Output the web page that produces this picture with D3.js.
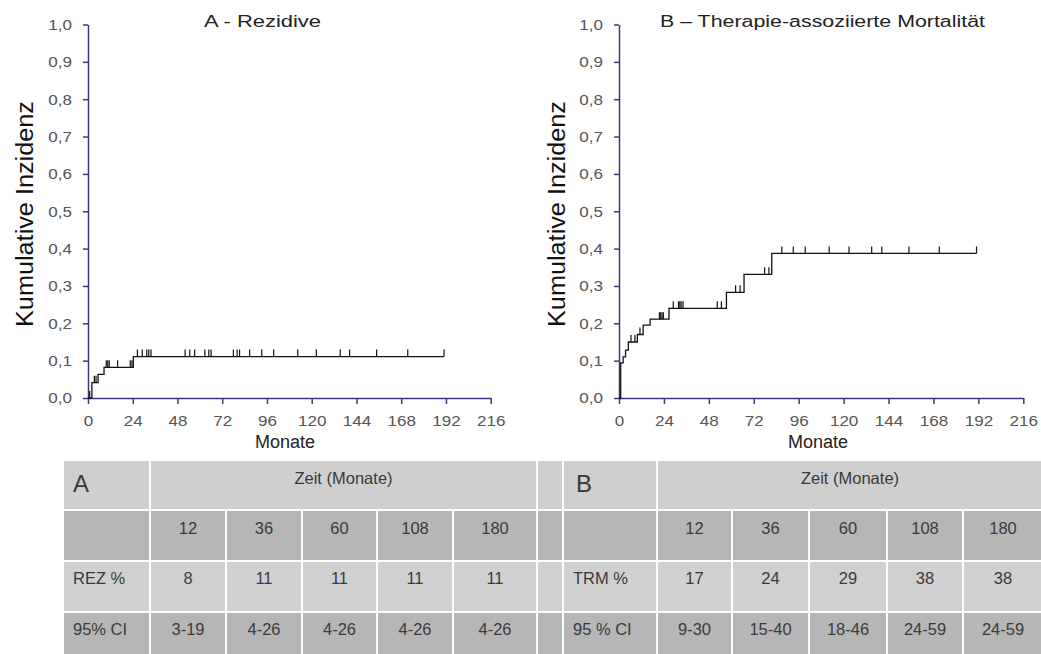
<!DOCTYPE html>
<html lang="de">
<head>
    <meta charset="UTF-8">
    <title>Kumulative Inzidenz - Rezidive und TRM</title>
    <script src="https://d3js.org/d3.v7.min.js"></script>
    <style>
        body {
            margin: 0;
            background: #fff;
        }
        svg text {
            font-family: "Liberation Sans", Arial, sans-serif;
        }
        .axis path,
        .axis line {
            stroke: #3a3a7c;
            stroke-width: 1.5px;
        }
        .axis text {
            fill: #555;
            font-size: 15.5px;
        }
        .curve {
            fill: none;
            stroke: #111;
            stroke-width: 1.3px;
        }
        .censor {
            stroke: #111;
            stroke-width: 1.2px;
        }
        .title {
            font-size: 16px;
            fill: #222;
            text-anchor: middle;
        }
        .ylabel {
            font-size: 23px;
            fill: #111;
            text-anchor: middle;
        }
        .xlabel {
            font-size: 18px;
            fill: #222;
            text-anchor: middle;
        }
        .cell-text {
            font-size: 16.5px;
            fill: #3a3a3a;
        }
    </style>
</head>
<body>
    <div id="chart"></div>
    <script>
        // ---- data ----
        const xTicks = [0, 24, 48, 72, 96, 120, 144, 168, 192, 216];
        const yTicks = [0, 0.1, 0.2, 0.3, 0.4, 0.5, 0.6, 0.7, 0.8, 0.9, 1.0];

        // A - Rezidive
        const stepTimesA = [2.1, 5.4, 8.6, 24.3];
        const stepValuesA = [0.041, 0.063, 0.082, 0.111];
        const censorA = [0.9, 3.4, 4.3, 9.8, 10.6, 11.4, 15.9, 22.7, 23.6,
                         26.5, 29.1, 31.5, 32.6, 33.8, 52.1, 54.6, 57.2, 62.7, 64.8, 66.0,
                         78.0, 80.0, 81.3, 86.7, 93.2, 99.6, 112.5, 122.5, 135.3, 140.3,
                         154.8, 171.5, 191];
        const endA = 191;

        // B - Therapie-assoziierte Mortalitaet
        const stepTimesB = [0.9, 2.2, 3.5, 5.0, 9.8, 12.9, 16.6, 26.7, 57.4, 66.8, 81.6];
        const stepValuesB = [0.094, 0.110, 0.128, 0.150, 0.170, 0.195, 0.211, 0.240, 0.283, 0.331, 0.387];
        const censorB = [6.4, 8.5, 11.2, 21.6, 22.3, 23.0, 23.7, 29.0, 31.8, 32.5, 33.2, 34.2,
                         52.5, 54.7, 62.3, 64.7, 77.8, 80.1, 87.0, 93.1, 99.5, 112.3,
                         122.9, 135.0, 140.4, 154.9, 171.1, 191];
        const endB = 191;

        // table values
        const tableMonths = ["12", "36", "60", "108", "180"];
        const rezPct = ["8", "11", "11", "11", "11"];
        const rezCI = ["3-19", "4-26", "4-26", "4-26", "4-26"];
        const trmPct = ["17", "24", "29", "38", "38"];
        const trmCI = ["9-30", "15-40", "18-46", "24-59", "24-59"];

        const W = 1041, H = 654;
        const svg = d3.select("#chart")
                      .append("svg")
                      .attr("width", W)
                      .attr("height", H);

        const fmtComma = d => d3.format(".1f")(d).replace(".", ",");

        // the tick labels in the original are a little wider than the font
        function widen(sel, k) {
            sel.selectAll("text").each(function() {
                const w = this.getComputedTextLength();
                d3.select(this)
                  .attr("textLength", w * k)
                  .attr("lengthAdjust", "spacingAndGlyphs");
            });
        }

        function drawPanel(p) {
            const x = d3.scaleLinear().domain([0, 216]).range([p.left, p.right]);
            const y = d3.scaleLinear().domain([0, 1]).range([398, 24.5]);
            const g = svg.append("g");

            // Y axis
            g.append("g")
             .attr("class", "axis")
             .attr("transform", `translate(${p.left},0)`)
             .call(d3.axisLeft(y).tickValues(yTicks).tickFormat(fmtComma)
                     .tickSize(5).tickSizeOuter(0).tickPadding(11))
             .call(widen, 1.1);

            // X axis
            g.append("g")
             .attr("class", "axis")
             .attr("transform", `translate(0,${y(0)})`)
             .call(d3.axisBottom(x).tickValues(xTicks).tickFormat(d3.format("d"))
                     .tickSize(6).tickSizeOuter(0).tickPadding(11))
             .call(widen, 1.1);

            // step curve
            const pts = [{ t: 0, v: 0 }];
            p.times.forEach((t, i) => pts.push({ t: t, v: p.values[i] }));
            pts.push({ t: p.end, v: p.values[p.values.length - 1] });

            const line = d3.line()
                           .x(d => x(d.t))
                           .y(d => y(d.v))
                           .curve(d3.curveStepAfter);

            g.append("path")
             .datum(pts)
             .attr("class", "curve")
             .attr("d", line);

            // censoring marks
            const levelAt = t => {
                const i = d3.bisectRight(p.times, t);
                return i === 0 ? 0 : p.values[i - 1];
            };
            g.selectAll(".censor")
             .data(p.censor)
             .join("line")
             .attr("class", "censor")
             .attr("x1", d => x(d))
             .attr("x2", d => x(d))
             .attr("y1", d => y(levelAt(d)))
             .attr("y2", d => y(levelAt(d)) - 7);

            // title
            g.append("text")
             .attr("class", "title")
             .attr("x", p.titleX)
             .attr("y", 27.3)
             .attr("textLength", p.titleLen)
             .attr("lengthAdjust", "spacingAndGlyphs")
             .text(p.title);

            // y label
            g.append("text")
             .attr("class", "ylabel")
             .attr("transform", `translate(${p.ylabX},214) rotate(-90)`)
             .attr("textLength", 226)
             .attr("lengthAdjust", "spacingAndGlyphs")
             .text("Kumulative Inzidenz");

            // x label
            g.append("text")
             .attr("class", "xlabel")
             .attr("x", p.xlabX)
             .attr("y", 448.3)
             .text("Monate");
        }

        drawPanel({
            left: 88, right: 490.7,
            times: stepTimesA, values: stepValuesA, censor: censorA, end: endA,
            title: "A - Rezidive", titleX: 262.5, titleLen: 117,
            ylabX: 33, xlabX: 285
        });

        drawPanel({
            left: 619, right: 1023.3,
            times: stepTimesB, values: stepValuesB, censor: censorB, end: endB,
            title: "B \u2013 Therapie-assoziierte Mortalit\u00e4t", titleX: 822.5, titleLen: 325,
            ylabX: 565, xlabX: 818
        });

        // ---- table ----
        const colEdges = [63, 150, 226, 302, 377, 453, 537, 563, 657, 732, 809, 887, 963, 1043];
        const rowEdges = [460, 510, 561, 612, 664];
        const rowFill = ["#cfcfcf", "#b6b6b6", "#d0d0d0", "#b6b6b6"];
        const tbl = svg.append("g");

        const cell = (c0, c1, r) => {
            tbl.append("rect")
               .attr("x", colEdges[c0])
               .attr("y", rowEdges[r])
               .attr("width", colEdges[c1] - colEdges[c0])
               .attr("height", rowEdges[r + 1] - rowEdges[r])
               .attr("fill", rowFill[r])
               .attr("stroke", "#fff")
               .attr("stroke-width", 2);
        };
        const txt = (xPos, yPos, s, anchor, size) => {
            tbl.append("text")
               .attr("class", "cell-text")
               .attr("x", xPos)
               .attr("y", yPos)
               .attr("text-anchor", anchor)
               .style("font-size", size ? size + "px" : null)
               .text(s);
        };
        const mid = (c0, c1) => (colEdges[c0] + colEdges[c1]) / 2;

        // header row
        cell(0, 1, 0); cell(1, 6, 0); cell(6, 7, 0); cell(7, 8, 0); cell(8, 13, 0);
        // body rows
        for (let r = 1; r < 4; r++) {
            for (let c = 0; c < 13; c++) cell(c, c + 1, r);
        }

        txt(colEdges[0] + 10, rowEdges[0] + 32, "A", "start", 24);
        txt(mid(1, 6), rowEdges[0] + 24, "Zeit (Monate)", "middle");
        txt(colEdges[7] + 13, rowEdges[0] + 32, "B", "start", 24);
        txt(mid(8, 13), rowEdges[0] + 24, "Zeit (Monate)", "middle");

        txt(colEdges[0] + 10, rowEdges[2] + 23, "REZ %", "start");
        txt(colEdges[0] + 10, rowEdges[3] + 23, "95% CI", "start");
        txt(colEdges[7] + 10, rowEdges[2] + 23, "TRM %", "start");
        txt(colEdges[7] + 10, rowEdges[3] + 23, "95 % CI", "start");

        tableMonths.forEach((m, i) => {
            txt(mid(1 + i, 2 + i), rowEdges[1] + 24, m, "middle");
            txt(mid(1 + i, 2 + i), rowEdges[2] + 23, rezPct[i], "middle");
            txt(mid(1 + i, 2 + i), rowEdges[3] + 23, rezCI[i], "middle");
            txt(mid(8 + i, 9 + i), rowEdges[1] + 24, m, "middle");
            txt(mid(8 + i, 9 + i), rowEdges[2] + 23, trmPct[i], "middle");
            txt(mid(8 + i, 9 + i), rowEdges[3] + 23, trmCI[i], "middle");
        });
    </script>
</body>
</html>
